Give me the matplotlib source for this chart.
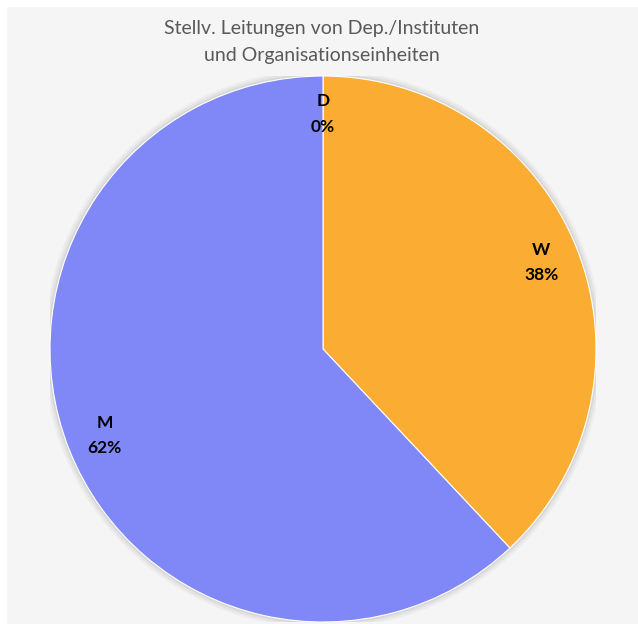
import matplotlib
matplotlib.use("Agg")
import matplotlib.pyplot as plt
from matplotlib.patches import Rectangle, Circle

plt.rcParams['font.family'] = ['Lato', 'DejaVu Sans']

categories = ['D', 'W', 'M']
shares = [0, 38, 62]
colors = ['#A5A5A5', '#FBAD33', '#8088F8']
title = "Stellv. Leitungen von Dep./Instituten\nund Organisationseinheiten"

fig = plt.figure(figsize=(6.38, 6.24), dpi=100)
fig.patch.set_facecolor('white')
# light gray chart area
fig.patches.append(Rectangle((7/638, 0), 1, 617/624, transform=fig.transFigure,
                             facecolor='#F5F5F5', edgecolor='none', zorder=-5))

ax = fig.add_axes([50/638, 2/624, 546/638, 546/624])
ax.set_facecolor('none')

# soft shadow behind the pie
for i, a in enumerate([0.05, 0.04, 0.03]):
    ax.add_patch(Circle((0, 0), 1.0 + 0.008*(i+1), facecolor='black', alpha=a,
                        edgecolor='none', zorder=0))

labels = [f"{c}\n{v}%" for c, v in zip(categories, shares)]
wedges, texts = ax.pie(shares, labels=labels, colors=colors, startangle=90,
                       counterclock=False, labeldistance=0.86,
                       wedgeprops=dict(edgecolor='white', linewidth=0.8),
                       textprops=dict(fontsize=12.5, fontweight='bold', color='black'))
for t in texts:
    t.set_ha('center')
    t.set_va('center')
    t.set_linespacing(1.75)
for w in wedges:
    w.set_zorder(2)

ax.set_xlim(-1, 1)
ax.set_ylim(-1, 1)
ax.set_aspect('equal')
ax.axis('off')

fig.text(322/638, 1 - 42/624, title, ha='center', va='center', fontsize=14,
         color='#595959', linespacing=1.65)

fig.savefig("out.png", dpi=100)
